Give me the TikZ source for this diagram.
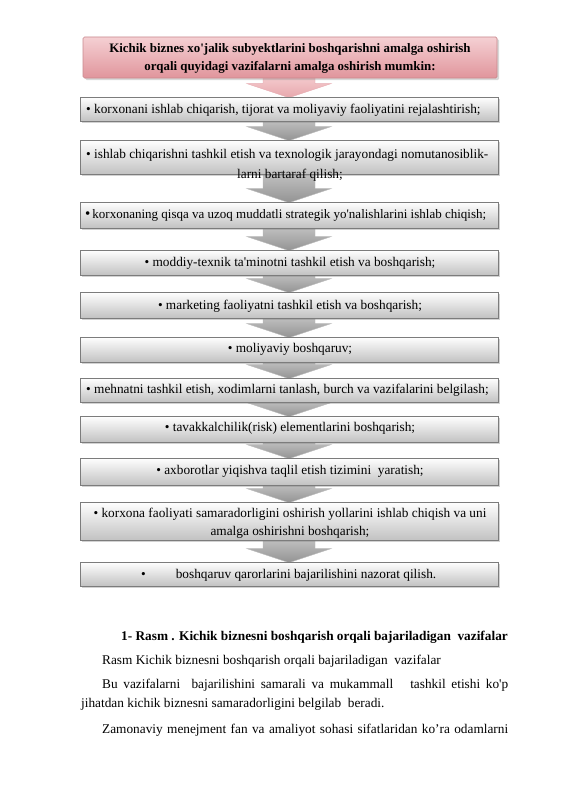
\documentclass[tikz,border=0pt]{standalone}
\usepackage{fontspec}
\setmainfont{Liberation Serif}
\usetikzlibrary{shadows,calc,backgrounds}
\definecolor{pinktop}{HTML}{F5D0D3}
\definecolor{pinkbot}{HTML}{E0959C}
\definecolor{pinkline}{HTML}{C9898E}
\definecolor{boxline}{HTML}{7C7C7C}
\definecolor{boxbot}{HTML}{C2C2C2}
\definecolor{arrtop}{HTML}{C4C4C4}
\definecolor{arrbot}{HTML}{939393}
\definecolor{parrtop}{HTML}{F5CDD0}
\definecolor{parrbot}{HTML}{E7A7AC}
\newcommand\blkarrow[3]{%
  \path[#1] let \p1=(#2.south), \p2=(#3.north) in
    (\x2-26,\y1+3) -- (\x2+26,\y1+3) -- (\x2+26,\y2+13) -- (\x2+42,\y2+13)
    -- (\x2,\y2-1) -- (\x2-42,\y2+13) -- (\x2-26,\y2+13) -- cycle;}
\newcommand\sq{\textquotesingle}
\begin{document}
\begin{tikzpicture}[x=1pt,y=-1pt,
  box/.style={draw=boxline, line width=0.7pt, top color=white, bottom color=boxbot,
    minimum width=418pt, inner sep=0pt,
    drop shadow={shadow xshift=2.2pt,shadow yshift=-2.2pt,opacity=0.35}},
  titlebox/.style={draw=pinkline, line width=0.7pt, top color=pinktop, bottom color=pinkbot,
    minimum width=414pt, minimum height=41pt, inner sep=0pt, rounded corners=1.5pt,
    drop shadow={shadow xshift=2.2pt,shadow yshift=-2.2pt,opacity=0.3}},
  txt/.style={font=\fontsize{13.3}{16}\selectfont, inner sep=0pt},
  btxt/.style={font=\fontsize{12.9}{18}\selectfont\bfseries, inner sep=0pt, align=center},
  grayarrow/.style={draw=gray!55, line width=0.4pt, top color=arrtop, bottom color=arrbot},
  pinkarrow/.style={draw=pinkbot!80!white, line width=0.4pt, top color=parrtop, bottom color=parrbot}
]
\useasboundingbox (0,0) rectangle (565,800);

% boxes
\node[titlebox] (t) at (290,57.5) {};
\node[box, minimum height=24pt] (b1) at (289,109) {};
\node[box, minimum height=34pt] (b2) at (289,157) {};
\node[box, minimum height=26pt] (b3) at (289,215) {};
\node[box, minimum height=25pt] (b4) at (289,262.5) {};
\node[box, minimum height=26pt] (b5) at (289,305) {};
\node[box, minimum height=25pt] (b6) at (289,349.5) {};
\node[box, minimum height=24pt] (b7) at (289,390) {};
\node[box, minimum height=26pt] (b8) at (289,429) {};
\node[box, minimum height=27pt] (b9) at (289,471.5) {};
\node[box, minimum height=38pt] (b10) at (289,521) {};
\node[box, minimum height=24pt] (b11) at (289,574) {};

% arrows behind the boxes
\begin{pgfonlayer}{background}
\fill[white] (0,0) rectangle (565,800);
\blkarrow{pinkarrow}{t}{b1}
\blkarrow{grayarrow}{b1}{b2}
\blkarrow{grayarrow}{b2}{b3}
\blkarrow{grayarrow}{b3}{b4}
\blkarrow{grayarrow}{b4}{b5}
\blkarrow{grayarrow}{b5}{b6}
\blkarrow{grayarrow}{b6}{b7}
\blkarrow{grayarrow}{b7}{b8}
\blkarrow{grayarrow}{b8}{b9}
\blkarrow{grayarrow}{b9}{b10}
\blkarrow{grayarrow}{b10}{b11}
\end{pgfonlayer}

% texts
\node[btxt] (tt) at (290,58) {Kichik biznes xo\sq jalik subyektlarini boshqarishni amalga oshirish\\orqali quyidagi vazifalarni amalga oshirish mumkin:};
\node[txt, anchor=west] (t1) at (86,110) {• korxonani ishlab chiqarish, tijorat va moliyaviy faoliyatini rejalashtirish;};
\node[txt, anchor=west] (t2a) at (86,155) {• ishlab chiqarishni tashkil etish va texnologik jarayondagi nomutanosiblik-};
\node[txt] (t2b) at (290,175) {larni bartaraf qilish;};
\node[txt, anchor=west, font=\fontsize{13}{16}\selectfont] (t3) at (85,215) {{\fontsize{15}{15}\selectfont•}\hspace{2pt}korxonaning qisqa va uzoq muddatli strategik yo\sq nalishlarini ishlab chiqish;};
\node[txt] (t4) at (290,263) {• moddiy-texnik ta\sq minotni tashkil etish va boshqarish;};
\node[txt] (t5) at (290,306) {• marketing faoliyatni tashkil etish va boshqarish;};
\node[txt] (t6) at (290,349) {• moliyaviy boshqaruv;};
\node[txt, anchor=west] (t7) at (86,390) {• mehnatni tashkil etish, xodimlarni tanlash, burch va vazifalarini belgilash;};
\node[txt] (t8) at (290,428) {• tavakkalchilik(risk) elementlarini boshqarish;};
\node[txt] (t9) at (290,471) {• axborotlar yiqishva taqlil etish tizimini\ \ yaratish;};
\node[txt, align=center, font=\fontsize{13.3}{18}\selectfont] (t10) at (290,523) {• korxona faoliyati samaradorligini oshirish yollarini ishlab chiqish va uni\\amalga oshirishni boshqarish;};
\node[txt, anchor=west] (t11) at (141,575) {•\hspace{30pt}boshqaruv qarorlarini bajarilishini nazorat qilish.};

% caption and paragraph
\node[txt, font=\fontsize{13.3}{16}\selectfont\bfseries, anchor=base west] (cap) at (121,640) {1- Rasm . Kichik biznesni boshqarish orqali bajariladigan\ \ vazifalar};
\node[txt, anchor=base west] (p1) at (102,664) {Rasm Kichik biznesni boshqarish orqali bajariladigan\ \ vazifalar};
\node[txt, anchor=base west] (p2) at (102,688) {\makebox[406pt][s]{Bu vazifalarni\ \ bajarilishini samarali va mukammall\ \ \ tashkil etishi ko\sq p}};
\node[txt, anchor=base west] (p3) at (81,707) {jihatdan kichik biznesni samaradorligini belgilab\ \ beradi.};
\node[txt, anchor=base west] (p4) at (102,733) {\makebox[406pt][s]{Zamonaviy menejment fan va amaliyot sohasi sifatlaridan ko’ra odamlarni}};
\end{tikzpicture}
\end{document}
